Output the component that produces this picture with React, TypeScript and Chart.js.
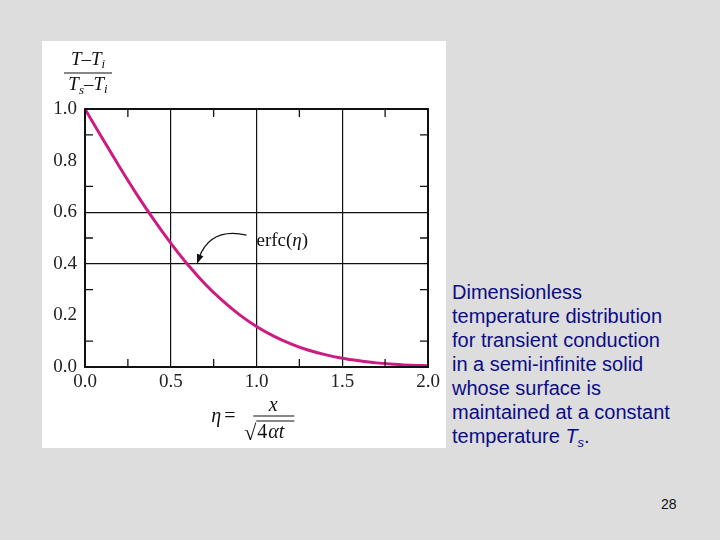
import React, { useEffect, useRef } from "react";
import { Chart, registerables } from "chart.js";

Chart.register(...registerables);

const etaValues = [0, 0.1, 0.2, 0.3, 0.4, 0.5, 0.6, 0.7, 0.8, 0.9, 1.0, 1.1, 1.2, 1.3, 1.4, 1.5, 1.6, 1.7, 1.8, 1.9, 2.0];
const erfcValues = [1.0, 0.888, 0.777, 0.671, 0.572, 0.48, 0.396, 0.322, 0.258, 0.203, 0.157, 0.12, 0.09, 0.066, 0.048, 0.034, 0.024, 0.016, 0.011, 0.007, 0.005];
const xTickLabels = ["0.0", "0.5", "1.0", "1.5", "2.0"];
const yTickLabels = ["0.0", "0.2", "0.4", "0.6", "0.8", "1.0"];
const xMinorTicks = [0.25, 0.75, 1.25, 1.75];
const yMinorTicks = [0.1, 0.3, 0.5, 0.7, 0.9];
const xGridValues = [0.5, 1.0, 1.5];
const yGridValues = [0.4, 0.6];
const curveLabelParts = ["erfc(", "η", ")"];
const captionLines = [
  "Dimensionless",
  "temperature distribution",
  "for transient conduction",
  "in a semi-infinite solid",
  "whose surface is",
  "maintained at a constant",
];
const pageNumber = "28";

const SERIF = '"Liberation Serif", "DejaVu Serif", serif';
const near = (a: number, list: number[]) => list.some((b) => Math.abs(a - b) < 1e-6);

const decorPlugin = {
  id: "decor",
  afterDatasetsDraw(chart: any) {
    const { ctx, chartArea: ca, scales } = chart;
    const xs = scales.x;
    const ys = scales.y;
    ctx.save();
    ctx.strokeStyle = "#111";
    ctx.fillStyle = "#111";
    // minor inward ticks
    ctx.lineWidth = 1.3;
    ctx.beginPath();
    xMinorTicks.forEach((v) => {
      const px = xs.getPixelForValue(v);
      ctx.moveTo(px, ca.bottom);
      ctx.lineTo(px, ca.bottom - 8);
      ctx.moveTo(px, ca.top);
      ctx.lineTo(px, ca.top + 8);
    });
    yMinorTicks.forEach((v) => {
      const py = ys.getPixelForValue(v);
      ctx.moveTo(ca.left, py);
      ctx.lineTo(ca.left + 8, py);
      ctx.moveTo(ca.right, py);
      ctx.lineTo(ca.right - 8, py);
    });
    ctx.stroke();
    // frame
    ctx.lineWidth = 2;
    ctx.strokeRect(ca.left, ca.top, ca.right - ca.left, ca.bottom - ca.top);

    const drawPieces = (pieces: [string, string, number][], startX: number, baseline: number, centered: boolean) => {
      let total = 0;
      pieces.forEach(([t, f]) => {
        ctx.font = f;
        total += ctx.measureText(t).width;
      });
      let x = centered ? startX - total / 2 : startX;
      pieces.forEach(([t, f, dy]) => {
        ctx.font = f;
        ctx.textAlign = "left";
        ctx.fillText(t, x, baseline + dy);
        x += ctx.measureText(t).width;
      });
    };

    // y-axis title fraction (T−Ti)/(Ts−Ti)
    const cx = ca.left + 3;
    const it = "italic 19px " + SERIF;
    const itSub = "italic 13px " + SERIF;
    const up = "19px " + SERIF;
    ctx.textBaseline = "alphabetic";
    drawPieces([["T", it, 0], ["–", up, 0], ["T", it, 0], ["i", itSub, 3]], cx, 24, true);
    ctx.lineWidth = 1.2;
    ctx.beginPath();
    ctx.moveTo(cx - 24, 32);
    ctx.lineTo(cx + 24, 32);
    ctx.stroke();
    drawPieces([["T", it, 0], ["s", itSub, 4], ["–", up, 0], ["T", it, 0], ["i", itSub, 3]], cx, 49, true);

    // x-axis title η = x / sqrt(4αt)
    const fracCx = xs.getPixelForValue(1.098);
    const barY = ca.bottom + 49;
    ctx.font = "italic 20px " + SERIF;
    ctx.textAlign = "left";
    ctx.textBaseline = "alphabetic";
    ctx.fillText("η", fracCx - 62, barY + 6);
    ctx.font = "20px " + SERIF;
    ctx.fillText("=", fracCx - 49, barY + 6);
    ctx.font = "italic 20px " + SERIF;
    ctx.textAlign = "center";
    ctx.fillText("x", fracCx, barY - 5);
    ctx.lineWidth = 1.2;
    ctx.beginPath();
    ctx.moveTo(fracCx - 20, barY);
    ctx.lineTo(fracCx + 21, barY);
    ctx.stroke();
    // radical
    ctx.font = "22px " + SERIF;
    ctx.textAlign = "left";
    ctx.fillText("√", fracCx - 29, barY + 24);
    ctx.beginPath();
    ctx.moveTo(fracCx - 17, barY + 5);
    ctx.lineTo(fracCx + 21, barY + 5);
    ctx.stroke();
    ctx.font = "20px " + SERIF;
    ctx.fillText("4", fracCx - 16, barY + 22);
    ctx.font = "italic 20px " + SERIF;
    ctx.fillText("αt", fracCx - 5, barY + 22);

    // annotation
    const tx = xs.getPixelForValue(1.0);
    const ty = ys.getPixelForValue(0.488);
    ctx.textBaseline = "middle";
    drawPieces(
      [
        [curveLabelParts[0], "19px " + SERIF, 0],
        [curveLabelParts[1], "italic 19px " + SERIF, 0],
        [curveLabelParts[2], "19px " + SERIF, 0],
      ],
      tx,
      ty,
      false
    );
    const sx = tx - 10;
    const sy = ty - 6;
    const ex = xs.getPixelForValue(0.653);
    const ey = ys.getPixelForValue(0.4);
    const qx = sx - 36;
    const qy = sy - 8;
    ctx.lineWidth = 1.2;
    ctx.beginPath();
    ctx.moveTo(sx, sy);
    ctx.quadraticCurveTo(qx, qy, ex + 2, ey - 6);
    ctx.stroke();
    const ang = Math.atan2(ey - qy, ex - qx);
    ctx.beginPath();
    ctx.moveTo(ex, ey);
    ctx.lineTo(ex - 10 * Math.cos(ang - 0.35), ey - 10 * Math.sin(ang - 0.35));
    ctx.lineTo(ex - 10 * Math.cos(ang + 0.35), ey - 10 * Math.sin(ang + 0.35));
    ctx.closePath();
    ctx.fill();
    ctx.restore();
  },
};

export default function App() {
  const canvasRef = useRef<HTMLCanvasElement | null>(null);

  useEffect(() => {
    if (!canvasRef.current) return;
    const points = etaValues.map((x, i) => ({ x, y: erfcValues[i] }));
    const chart = new Chart(canvasRef.current, {
      type: "line",
      data: {
        datasets: [
          {
            data: points,
            borderColor: "#cc1c82",
            borderWidth: 3,
            pointRadius: 0,
            cubicInterpolationMode: "monotone",
            clip: false as any,
          },
        ],
      },
      options: {
        responsive: false,
        animation: false,
        events: [],
        layout: { padding: { left: 0, right: 18, top: 68, bottom: 0 } },
        plugins: { legend: { display: false }, tooltip: { enabled: false } },
        scales: {
          x: {
            type: "linear",
            min: 0,
            max: 2,
            afterFit: (s: any) => {
              s.height = 81;
            },
            ticks: {
              stepSize: 0.5,
              padding: 4,
              color: "#222",
              font: { family: SERIF, size: 19 },
              maxRotation: 0,
              callback: (v: any) => {
                const l = xTickLabels.find((t) => Math.abs(Number(t) - v) < 1e-6);
                return l ?? "";
              },
            },
            grid: {
              drawTicks: false,
              lineWidth: 1.2,
              color: (c: any) => (near(c.tick?.value, xGridValues) ? "#111" : "rgba(0,0,0,0)"),
            },
            border: { display: false },
          },
          y: {
            type: "linear",
            min: 0,
            max: 1,
            afterFit: (s: any) => {
              s.width = 43;
            },
            ticks: {
              stepSize: 0.2,
              padding: 8,
              color: "#222",
              font: { family: SERIF, size: 19 },
              callback: (v: any) => {
                const l = yTickLabels.find((t) => Math.abs(Number(t) - v) < 1e-6);
                return l ?? "";
              },
            },
            grid: {
              drawTicks: false,
              lineWidth: 1.2,
              color: (c: any) => (near(c.tick?.value, yGridValues) ? "#111" : "rgba(0,0,0,0)"),
            },
            border: { display: false },
          },
        },
      },
      plugins: [decorPlugin],
    });
    return () => chart.destroy();
  }, []);

  return (
    <div
      style={{
        position: "absolute",
        left: 0,
        top: 0,
        width: 720,
        height: 540,
        background: "#dddddd",
        overflow: "hidden",
      }}
    >
      <div style={{ position: "absolute", left: 42, top: 41, width: 404, height: 407, background: "#ffffff" }}>
        <canvas ref={canvasRef} width={404} height={407} style={{ width: 404, height: 407, display: "block" }} />
      </div>
      <div
        style={{
          position: "absolute",
          left: 452,
          top: 280,
          fontFamily: '"Liberation Sans", Arial, sans-serif',
          fontSize: 20,
          lineHeight: "24px",
          color: "#0c0c86",
          whiteSpace: "nowrap",
        }}
      >
        {captionLines.map((l, i) => (
          <div key={i}>{l}</div>
        ))}
        <div>
          temperature <i>T</i>
          <sub style={{ fontSize: 13, verticalAlign: "-4px", lineHeight: 0 }}>
            <i>s</i>
          </sub>
          .
        </div>
      </div>
      <div
        style={{
          position: "absolute",
          left: 661,
          top: 495,
          fontFamily: '"Liberation Sans", Arial, sans-serif',
          fontSize: 14,
          lineHeight: "18px",
          color: "#111",
        }}
      >
        {pageNumber}
      </div>
    </div>
  );
}
